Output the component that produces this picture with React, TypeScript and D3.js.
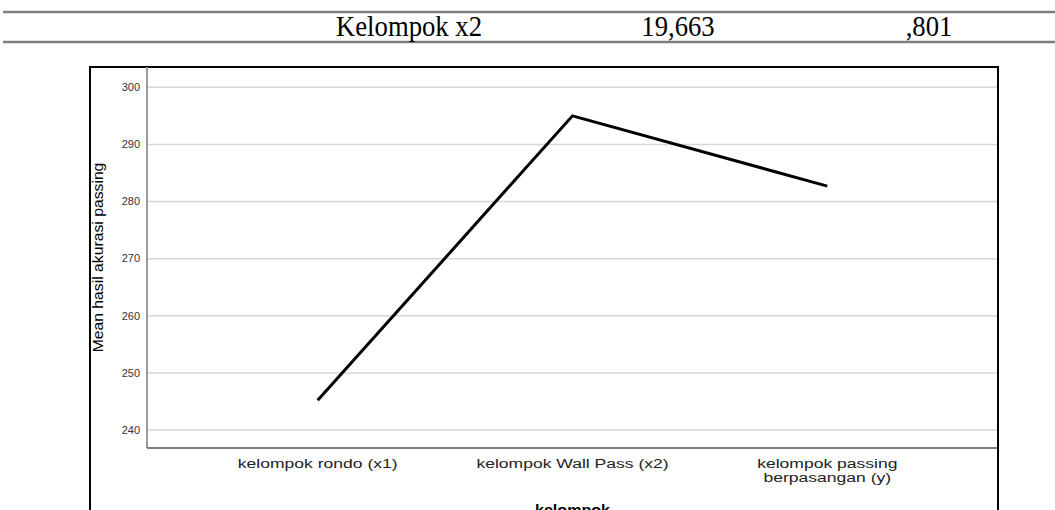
import React, { useEffect, useRef } from 'react';
import * as d3 from 'd3';

const tableCells = ['Kelompok x2', '19,663', ',801'];
const categories = ['kelompok rondo (x1)', 'kelompok Wall Pass (x2)', 'kelompok passing\nberpasangan (y)'];
const means = [245.2, 295.0, 282.7];
const yTicks = [240, 250, 260, 270, 280, 290, 300];

const sans = 'Liberation Sans, Arial, sans-serif';

const App: React.FC = () => {
  const ref = useRef<SVGSVGElement>(null);

  useEffect(() => {
    const svg = d3.select(ref.current);
    svg.selectAll('*').remove();

    // table fragment on top
    [12, 42].forEach((ly) => {
      svg.append('line').attr('x1', 3).attr('x2', 1055).attr('y1', ly).attr('y2', ly)
        .attr('stroke', '#7f7f7f').attr('stroke-width', 2.5);
    });
    const cellX = [409, 678, 929];
    tableCells.forEach((t, i) => {
      svg.append('text').attr('transform', `translate(${cellX[i]},36) scale(0.89,1)`)
        .attr('text-anchor', 'middle')
        .attr('font-family', 'Liberation Serif, serif').attr('font-size', 30).attr('fill', '#000').text(t);
    });

    const left = 147, right = 998, top = 67, bottom = 448;

    // chart frame
    svg.append('rect').attr('x', 90).attr('y', top).attr('width', right - 90).attr('height', 520)
      .attr('fill', 'none').attr('stroke', '#000').attr('stroke-width', 2);

    const x = d3.scalePoint<string>().domain(categories).range([left, right]).padding(0.67);
    const y = d3.scaleLinear().domain([236.85, 303.55]).range([bottom, top]);

    const grid = svg.append('g');
    yTicks.forEach((t) => {
      grid.append('line').attr('x1', left).attr('x2', right - 1).attr('y1', y(t)).attr('y2', y(t))
        .attr('stroke', '#d6d6d6').attr('stroke-width', 1.5);
      grid.append('text').attr('x', 140).attr('y', y(t)).attr('dy', '0.35em').attr('text-anchor', 'end')
        .attr('font-family', sans).attr('font-size', 11).attr('fill', '#333')
        .text(t);
    });

    // axes
    svg.append('line').attr('x1', left).attr('x2', left).attr('y1', top).attr('y2', bottom)
      .attr('stroke', '#9a9a9a').attr('stroke-width', 2);
    svg.append('line').attr('x1', left).attr('x2', right - 1).attr('y1', bottom).attr('y2', bottom)
      .attr('stroke', '#555').attr('stroke-width', 1.5);

    categories.forEach((c) => {
      c.split('\n').forEach((l, i) => {
        svg.append('text').attr('transform', `translate(${x(c)},${468 + i * 14}) scale(1.3,1)`)
          .attr('text-anchor', 'middle')
          .attr('font-family', sans).attr('font-size', 13.5).attr('fill', '#222').text(l);
      });
    });

    svg.append('text').attr('transform', `translate(${(left + right) / 2},515) scale(1.15,1)`)
      .attr('text-anchor', 'middle')
      .attr('font-family', sans).attr('font-size', 14).attr('font-weight', 'bold')
      .attr('fill', '#000').text('kelompok');

    svg.append('text').attr('transform', `translate(103,${(top + bottom) / 2}) rotate(-90) scale(1.05,1)`)
      .attr('text-anchor', 'middle')
      .attr('font-family', sans).attr('font-size', 15)
      .attr('fill', '#000').text('Mean hasil akurasi passing');

    const line = d3.line<number>().x((_, i) => x(categories[i])!).y((d) => y(d));
    svg.append('path').datum(means).attr('d', line).attr('fill', 'none')
      .attr('stroke', '#000').attr('stroke-width', 3);
  }, []);

  return (
    <svg ref={ref} width={1055} height={510}
      style={{ position: 'absolute', left: 0, top: 0, background: '#fff' }} />
  );
};

export default App;
